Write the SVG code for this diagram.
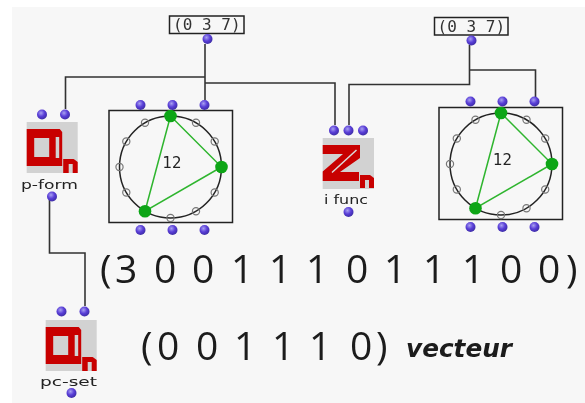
<svg xmlns="http://www.w3.org/2000/svg" xmlns:xlink="http://www.w3.org/1999/xlink" width="585" height="403" viewBox="0 0 585 403">
<style>
.wire{fill:none;stroke:#333;stroke-width:1.6}
.box{fill:none;stroke:#222;stroke-width:1.5}
.port{fill:url(#pg)}
.icon{fill:#d2d2d2}
.red{fill:#c80000}
.cut{fill:#d2d2d2}
.lab{font-family:"DejaVu Sans",sans-serif;font-size:13px;fill:#222}
.val{font-family:"DejaVu Sans Mono",monospace;font-size:16px;fill:#333;text-anchor:middle}
.big{font-family:"Open Sans",sans-serif;font-size:39px;fill:#1a1a1a}
.n12{font-family:"DejaVu Sans",sans-serif;font-size:15px;fill:#222;text-anchor:middle}
.ring{fill:none;stroke:#222;stroke-width:1.5}
.tri{fill:none;stroke:#2fb52f;stroke-width:1.5}
.on{fill:#10a518}
.off{fill:none;stroke:#777;stroke-width:1.2}
</style>
<defs>
<filter id="soft" x="0" y="0" width="1" height="1"><feGaussianBlur stdDeviation="0.35"/></filter>
<radialGradient id="pg" cx="0.4" cy="0.35" r="0.7"><stop offset="0" stop-color="#a8a0f0"/><stop offset="0.5" stop-color="#5a3fd8"/><stop offset="1" stop-color="#3a2aa0"/></radialGradient>
<g id="p"><circle class="port" r="5"/></g>
<g id="dn">
<rect class="icon" width="51" height="51"/>
<path class="red" d="M0 7H33L35.500 10V44H0Z"/>
<rect class="cut" x="7.500" y="16" width="15" height="19"/>
<rect class="cut" x="29" y="15" width="3.500" height="21"/>
<path class="red" d="M36.500 37H47L51 40V51H46V42H42V51H36.500Z"/>
</g>
<g id="ring">
<circle class="ring" r="51"/>
<circle class="off" cx="-25.500" cy="-44.200" r="3.600"/>
<circle class="off" cx="25.500" cy="-44.200" r="3.600"/>
<circle class="off" cx="-44.200" cy="-25.500" r="3.600"/>
<circle class="off" cx="44.200" cy="-25.500" r="3.600"/>
<circle class="off" cx="-51" cy="0" r="3.600"/>
<circle class="off" cx="44.200" cy="25.500" r="3.600"/>
<circle class="off" cx="-44.200" cy="25.500" r="3.600"/>
<circle class="off" cx="25.500" cy="44.200" r="3.600"/>
<circle class="off" cx="0" cy="51" r="3.600"/>
<path class="tri" d="M0 -51L51 0L-25.500 44.200Z"/>
<circle class="on" cx="0" cy="-51" r="6.300"/>
<circle class="on" cx="51" cy="0" r="6.300"/>
<circle class="on" cx="-25.500" cy="44.200" r="6.300"/>
<text class="n12" x="1.500" y="1">12</text>
</g>
</defs>
<rect x="12" y="7" width="573" height="396" fill="#f7f7f7"/>
<g filter="url(#soft)">
<g id="connectors">
<path class="wire" d="M205 44V100M205 77H65.500V109M205 83H335V125"/>
<path class="wire" d="M469.500 45V84.500H349V125M469.500 70H535.500V97"/>
<path class="wire" d="M49.500 200V253H85V306"/>
</g>
<g id="val-left">
<rect class="box" x="169.500" y="16" width="74.500" height="17.500"/>
<text class="val" x="206.800" y="30">(0 3 7)</text>
<use xlink:href="#p" x="207.500" y="39"/>
</g>
<g id="val-right">
<rect class="box" x="434.500" y="17.500" width="73.500" height="17.500"/>
<text class="val" x="471.300" y="31.500">(0 3 7)</text>
<use xlink:href="#p" x="471.500" y="40.500"/>
</g>
<g id="p-form">
<use xlink:href="#dn" x="26.700" y="122"/>
<text class="lab" x="21" y="188.500" textLength="57" lengthAdjust="spacingAndGlyphs">p-form</text>
<use xlink:href="#p" x="42" y="114.500"/>
<use xlink:href="#p" x="65" y="114.500"/>
<use xlink:href="#p" x="52" y="196.500"/>
</g>
<g id="circle-left">
<rect class="box" x="109" y="110.500" width="123.500" height="112"/>
<use xlink:href="#ring" x="170.500" y="167"/>
<use xlink:href="#p" x="140.500" y="105"/>
<use xlink:href="#p" x="172.500" y="105"/>
<use xlink:href="#p" x="204.500" y="105"/>
<use xlink:href="#p" x="140.500" y="230"/>
<use xlink:href="#p" x="172.500" y="230"/>
<use xlink:href="#p" x="204.500" y="230"/>
</g>
<g id="i-func">
<rect class="icon" x="322.700" y="138" width="51.300" height="51"/>
<path class="red" d="M322.700 145H360V158L340 172H359V181H322.700V171.500L343 154H322.700Z"/>
<path d="M332 172.500L356.500 150" stroke="#dcdcdc" stroke-width="1.500" fill="none"/>
<path class="red" d="M360 175H370L374 178V188H369V180H365V188H360Z"/>
<text class="lab" x="324" y="204" textLength="44" lengthAdjust="spacingAndGlyphs">i func</text>
<use xlink:href="#p" x="334" y="130.500"/>
<use xlink:href="#p" x="348.500" y="130.500"/>
<use xlink:href="#p" x="363" y="130.500"/>
<use xlink:href="#p" x="348.500" y="212"/>
</g>
<g id="circle-right">
<rect class="box" x="439" y="107.500" width="123.500" height="112"/>
<use xlink:href="#ring" x="501" y="164"/>
<use xlink:href="#p" x="470.500" y="101.500"/>
<use xlink:href="#p" x="502.500" y="101.500"/>
<use xlink:href="#p" x="534.500" y="101.500"/>
<use xlink:href="#p" x="470.500" y="227"/>
<use xlink:href="#p" x="502.500" y="227"/>
<use xlink:href="#p" x="534.500" y="227"/>
</g>
<g id="pc-set">
<use xlink:href="#dn" x="45.700" y="320"/>
<text class="lab" x="40" y="385.500" textLength="57" lengthAdjust="spacingAndGlyphs">pc-set</text>
<use xlink:href="#p" x="61.500" y="311.500"/>
<use xlink:href="#p" x="84.500" y="311.500"/>
<use xlink:href="#p" x="71.500" y="393"/>
</g>
<text class="big" y="283" x="100 115 137 154 176 192 214 231 253 269 291 306 328 346 368 384 406 423 445 462 484 500 522 538 566">(3 0 0 1 1 1 0 1 1 1 0 0)</text>
<text class="big" y="360" x="141 157 179 196 218 234 256 272 294 309 331 350 376">(0 0 1 1 1 0)</text>
<text x="406" y="356.500" font-family="'DejaVu Sans',sans-serif" font-weight="bold" font-style="italic" font-size="24" fill="#1a1a1a" textLength="106" lengthAdjust="spacingAndGlyphs">vecteur</text>
</g>
</svg>
